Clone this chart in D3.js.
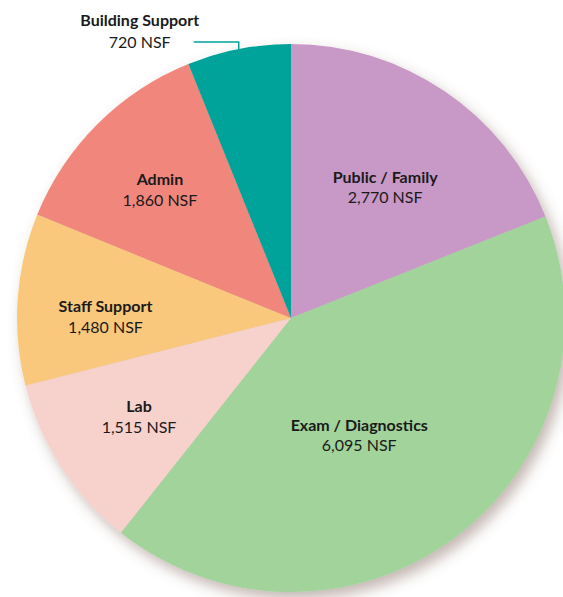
<!DOCTYPE html>
<html>
<head>
<meta charset="utf-8">
<script src="https://cdn.jsdelivr.net/npm/d3@7"></script>
<style>
  html, body { margin: 0; padding: 0; background: #ffffff; }
  svg { display: block; }
  text { font-family: Lato, "Open Sans", "Noto Sans", sans-serif; fill: #1a1a1a; }
</style>
</head>
<body>
<svg id="chart" width="563" height="597"></svg>
<script>
// ---- data ----
const categories = ["Public / Family", "Exam / Diagnostics", "Lab", "Staff Support", "Admin", "Building Support"];
const values = [2770, 6095, 1515, 1480, 1860, 720];
const unit = "NSF";
const colors = ["#C898C6", "#A2D39B", "#F7D1CC", "#FAC87B", "#F1867B", "#00A39A"];

// ---- layout ----
const minSliceDeg = 22;                                  // small slices drawn at least this wide
const labelRadiusFrac = [0.583, 0.50, 0.664, 0.677, 0.666, null];
const labelAngleShift = [2.0, 6.8, -0.4, -4.0, -1.0, 0]; // degrees

const W = 563, H = 597;
const cx = 291, cy = 318, R = 274;

const svg = d3.select("#chart");
const defs = svg.append("defs");
const f = defs.append("filter").attr("id", "shadow")
  .attr("x", "-20%").attr("y", "-20%").attr("width", "140%").attr("height", "140%");
f.append("feDropShadow").attr("dx", 5).attr("dy", 7).attr("stdDeviation", 7)
  .attr("flood-color", "#6a4a40").attr("flood-opacity", 0.4);

const data = categories.map((c, i) => ({ name: c, value: values[i], color: colors[i], i }));

const pie = d3.pie().value(d => d.value).sort(null);
let arcs = pie(data);

// enforce minimum slice angle, shrink the rest proportionally
(function () {
  const TAU = 2 * Math.PI, minA = minSliceDeg * Math.PI / 180;
  const spans = arcs.map(a => a.endAngle - a.startAngle);
  const small = spans.map(s => s < minA);
  const fixed = small.reduce((s, v) => s + (v ? minA : 0), 0);
  const restTotal = spans.reduce((s, v, i) => s + (small[i] ? 0 : v), 0);
  const k = (TAU - fixed) / restTotal;
  let ang = 0;
  arcs = arcs.map((a, i) => {
    const span = small[i] ? minA : spans[i] * k;
    const out = Object.assign({}, a, { startAngle: ang, endAngle: ang + span });
    ang += span;
    return out;
  });
})();

const arc = d3.arc().innerRadius(0).outerRadius(R);

const g = svg.append("g").attr("transform", `translate(${cx},${cy})`);

const slices = g.append("g").attr("filter", "url(#shadow)");
slices.selectAll("path").data(arcs).join("path")
  .attr("d", arc)
  .attr("fill", d => d.data.color);

const fmt = d3.format(",");
const fs = 16;

arcs.forEach((a, i) => {
  if (labelRadiusFrac[i] == null) return;
  const mid = (a.startAngle + a.endAngle) / 2 + labelAngleShift[i] * Math.PI / 180;
  const r = R * labelRadiusFrac[i];
  const x = r * Math.sin(mid), y = -r * Math.cos(mid);
  const t = g.append("text").attr("text-anchor", "middle").attr("font-size", fs);
  t.append("tspan").attr("x", x).attr("y", y - 6).attr("font-weight", "bold").text(a.data.name);
  t.append("tspan").attr("x", x).attr("y", y + 14.5).text(`${fmt(a.data.value)} ${unit}`);
});

// Building Support: outside label with leader line
const bIdx = categories.indexOf("Building Support");
const b = arcs[bIdx];
const attachAngle = (b.startAngle + b.endAngle) / 2;
const ax = R * Math.sin(attachAngle), ay = -R * Math.cos(attachAngle);
const elbowY = ay - 7;
g.append("path")
  .attr("d", `M${ax},${ay} L${ax},${elbowY} L${ax - 45},${elbowY}`)
  .attr("fill", "none").attr("stroke", b.data.color).attr("stroke-width", 1.5);
const lx = ax - 99;
const bt = g.append("text").attr("text-anchor", "middle").attr("font-size", fs);
bt.append("tspan").attr("x", lx).attr("y", elbowY - 16).attr("font-weight", "bold").text(b.data.name);
bt.append("tspan").attr("x", lx).attr("y", elbowY + 6).text(`${fmt(b.data.value)} ${unit}`);
</script>
</body>
</html>
